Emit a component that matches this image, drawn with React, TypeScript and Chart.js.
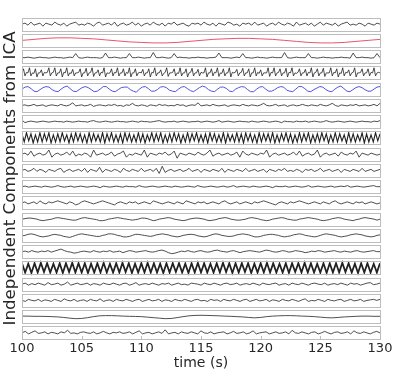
import { useEffect, useRef } from "react";
import { Chart, registerables } from "chart.js";

Chart.register(...registerables);

const X_MIN = 100;
const X_MAX = 130;
const xTickValues = [100, 105, 110, 115, 120, 125, 130];
const xTitle = "time (s)";
const yTitle = "Independent Components from ICA";

const c1 = [0,1,-1,2,-1,0,1,-2,1,0,-1,2,0,-1,1,-2,0,1,2,-1,0,-1,1,0,-2,1,2,-1,0,1,-1,2,-2,0,1,-1,0,2,-1,1,-2,0,1,-1,2,0,-1,1,-2,1,0,2,-1,0,1,-1,-2,1,0,1,-1,2,0,-1,1,-2,1,0,-1,2,1,-1,0,-2,1,0,1,-1,2,-1,0,1,-2,0,1,-1,2,0,-1,1,0,-2,2,-1,0,1,-1,1,-2,0,2,-1,1,0,-1,1,-2,0,1,2,-1,0,-1,1,0,-2,1,0,-1,1,0];
const c2 = [0,1,2,2.5,2.5,2,1.5,0.5,-0.5,-1.5,-2,-2.5,-2.5,-2,-1,0,1,1.5,2,2,1.5,1,0,-1,-2,-2.5,-2.5,-2,-1,0,1];
const c3 = [-1,-1,-0.5,-1,-1.5,-1,-0.5,-1,-1,-1.5,-1,-0.5,-1,-1,-1.5,-1,-0.5,-1,3,-1,-1.5,-1,-0.5,-1,-1,-1,-1.5,-1,3.5,-1,-1,-0.5,-1,-1.5,-1,-1,3,-1,-1,-0.5,-1,-1.5,-1,-1,4,-1,-1,-0.5,-1,-1.5,-1,3,-1,-0.5,-1,-1,-1.5,-1,-1,-0.5,-1,-1,-1.5,-1,-1,-0.5,3.5,-1,-1,-1,-1.5,-1,-0.5,-1,3,-1,-1,-1.5,-1,-0.5,-1,-1,-1.5,-1,-0.5,-1,-1,-1,4,-1,-1.5,-1,-0.5,-1,-1,-1,3,-1,-1,-1.5,-1,-0.5,-1,-1,-1.5,-1,-1,-0.5,-1,-1,-1.5,3.5,-1,-1,-0.5,-1,-1,-1.5,-1,3,-1];
const c4 = [
  0,4,-3,0.5,0,5,-3,0,-0.5,4,-4,0,0,3,-3,0.5,0,0.5,5,-3,0,
  0.5,5,-3,0,0,4,-4,0.5,0,5,-3,0,-0.5,3.5,-3,0,0,0.5,4,-4,0,
  0,4.5,-3,0,0.5,5,-3.5,0,0,3,-3,0.5,0,5,-4,0,-0.5,0,4,-3,0.5,
  0,5,-3,0,0,4,-3,0.5,-0.5,5,-4,0,0,4,-3,0,0.5,0,3.5,-3,0,
  0,4,-4,0.5,0,5,-3,0,0,3,-3,-0.5,0.5,5,-3.5,0,0,0.5,4,-3,0,
  -0.5,5,-3,0,0,4,-4,0,0.5,4.5,-3,0,0,3.5,-3,0.5,0,0,5,-4,0,
  0,4,-3,0.5,0,5,-3.5,0,-0.5,4,-3,0,0,5,-4,0.5,0,0.5,3.5,-3,0,
  0.5,4.5,-3,0,0,4,-4,0,0,5,-3,0.5,-0.5,3,-3,0,0,0,5,-3.5,0.5,
  0,5,-3,0,0.5,4,-3,0,0,4.5,-4,0.5,0,5,-3,0,-0.5,0.5,4,-3,0,
  0,3.5,-3,0.5,0,5,-4,0,0.5,4,-3,0,0,4.5,-3.5,0,0,0,5,-3,0.5,
  0,4,-4,0,-0.5,5,-3,0.5,0,3,-3,0,0.5,5,-4,0,0,0.5,4,-3,0,
  0,4,-3,0.5,0,5,-3,0,0.5,0,
];
const c5 = [0,2,2.5,0.5,-2,-2.5,-0.5,1.5,2.5,2,-0.5,-2,-2.5,0,2,3,0.5,-2,-2.5,-0.5,1.5,2.5,1.5,-0.5,-2.5,-2,0,2.5,2.5,0,-2,-2.5,-0.5,1.5,2,2,-0.5,-2,-3,0,2,2.5,0.5,-2,-2,-0.5,2,2.5,1.5,-1,-2,-2.5,0,2,2.5,0.5,-1.5,-2.5,-0.5,1.5,3,2,-0.5,-2,-2.5,0,2,2,0.5,-2,-2.5,0,1.5,2.5,2,-0.5,-2.5,-2.5,0,2,2.5,0,-2,-2,-0.5,1.5,2.5,2,-1,-2,-2.5,0,2.5,2.5,0.5,-2,-2.5,-0.5,1,2.5,2,-0.5,-2,-2.5,0,2,3,0.5,-2,-2.5,-0.5,1.5,2.5,1.5,-0.5,-2,-2,0,2,2.5];
const c6 = [0,0.5,-0.5,0,1,-0.5,0,0.5,-1,0,0.5,0,-0.5,1,0,-0.5,0.5,2.5,-0.5,0,0.5,-0.5,0,1,-1,0,0.5,0,-0.5,0.5,0,1,-0.5,0,-1,0.5,0,2,0,-0.5,0.5,0,-1,0.5,0,-0.5,1,0,0.5,-0.5,0,-0.5,1,0,0.5,-1,0,0.5,0,2.5,-0.5,0,0.5,-0.5,1,0,-0.5,0,0.5,-1,0,0.5,0,-0.5,1,0,-0.5,0.5,0,-0.5,0.5,2,0,-0.5,0,1,-0.5,0,0.5,-1,0,0.5,-0.5,0,1,0,-0.5,0.5,0,-0.5,1,0,-0.5,0.5,2,0,-1,0.5,0,-0.5,0.5,0,1,-0.5,0,0.5,-0.5,0,1,-0.5,2];
const c7 = [1.5,-1,0,0.5,0,-0.5,0,0.5,0,-0.5,0,0.5,0,0,-0.5,0.5,0,-0.5,0,0.5,0,0,-0.5,0.5,1,0,-0.5,0,0.5,0,-0.5,0,0.5,0,0,-0.5,0,0.5,0,-0.5,0.5,0,0,-0.5,0,0.5,1,0,-0.5,0,0,0.5,-0.5,0,0.5,0,-0.5,0,0,0.5,-0.5,0,0.5,0,-0.5,0,1,-0.5,0,0.5,0,-0.5,0,0.5,0,0,-0.5,0.5,0,-0.5,0,0.5,0,-0.5,0,0.5,0,-1,0.5,0,0,-0.5,0.5,0,0,0.5,-0.5,0,0.5,0,-0.5,0,1,0,-0.5,0,0.5,0,-0.5,0,0.5,0,-0.5,0,0.5,0,0,-0.5,0.5,0,1];
const c8 = [4,-4,5,-3,4,-5,3,-4,5,-4,4,-3,5,-5,3,-4,4,-4,5,-3,3,-5,4,-4,5,-3,4,-4,3,-5,5,-4,4,-3,3,-4,5,-5,4,-3,5,-4,3,-4,4,-5,5,-3,4,-4,3,-4,5,-4,4,-5,3,-3,5,-4,4,-3,5,-5,3,-4,4,-4,5,-3,4,-5,3,-4,5,-4,4,-3,5,-4,3,-4,4,-5,5,-3,4,-4,3,-4,5,-5,4,-3,3,-4,5,-4,4,-5,5,-3,4,-4,3,-5,5,-4,4,-3,4,-4,5,-5,3,-4,4,-3,5,-4,4,-5,3,-4,5,-4,4,-3,5,-5,3,-4,4,-4,5,-3,4,-5,3,-4,5,-4,4,-3,3,-5,5,-4,4,-4,3,-3,5,-5,4,-4,3,-4,5,-3,4];
const c9 = [0,1,-1,3,-2,0,1,-1,0,4,-3,0,1,-1,0,2,-1,3,-2,0,-1,1,0,-3,4,-1,0,1,-1,0,2,-2,0,1,3,-3,0,-1,1,0,-1,4,-3,1,0,-1,1,0,2,-1,0,3,-4,1,0,-1,1,0,-1,2,0,-1,1,4,-2,0,1,-1,0,1,-1,0,2,-3,3,0,-1,1,0,-1,1,0,4,-3,0,1,-1,0,1,-1,0,2,-1,3,-2,0,1,-1,0,4,-3,0,1,-1,0,1,-2,2,0,-1,1,0,3,-3,1,0,-1,1,0,-1,0];
const c10 = [0,1,-1,0,2,-1,1,0,-2,1,0,-1,1,2,-2,0,1,-1,0,1,-1,2,-2,1,0,-1,3,-2,1,0,-1,1,0,-2,2,0,-1,1,0,-1,2,-1,0,1,-1,2,-3,4,-2,0,1,-1,0,1,-1,0,2,-1,0,1,-2,1,0,-1,1,0,-1,2,-2,1,0,-1,1,0,-1,2,-1,0,1,-1,0,1,-2,1,0,-1,1,0,2,-1,0,-1,1,0,-2,1,0,1,-1,0,2,-1,0,1,-1,0,1,-2,1,0,-1,1,0,-1,2,-1,0,1,-1,0,1];
const c11 = [0,0.5,-0.5,0,0.5,0,-0.5,0.5,0,-0.5,0,1,0,-0.5,0,0.5,-0.5,0,0.5,0,-0.5,0,0.5,0,-1,0.5,0,-0.5,0,0.5,0,-0.5,0.5,0,0,-0.5,1,0,-0.5,0,0.5,0,-0.5,0,0.5,0,-0.5,0.5,0,-0.5,0,0.5,0,-0.5,1,0,-0.5,0,0.5,0,-0.5,0,0.5,-0.5,0,1,-0.5,0,0.5,0,-0.5,0.5,0,-0.5,0,0.5,0,-1,0.5,0,0,0.5,-0.5,0,0.5,0,-0.5,0,1,-0.5,0,0.5,0,-0.5,0,0.5,-0.5,0,0.5,0,1,-0.5,0,0.5,0,-0.5,0,0.5,1,0,0];
const c12 = [0,1,-1,0,1,-1,2,0,-1,1,0,1,2,1,0,-1,1,0,-2,-1,1,2,1,0,-1,0,1,2,1,0,-1,-2,0,1,0,-1,1,0,1,-1,0,1,0,-1,2,1,0,-1,0,1,0,-1,1,0,-1,2,1,0,-1,1,0,1,-1,0,1,0,-1,1,2,0,-1,0,1,-1,0,1,0,-1,1,0,1,2,1,0,-1,-2,0,1,0,-1,1,0,1,2,1,0,-1,0,1,0,-1,1,0,-1,1,2,0,-1,0,1,0,-1,1,0,1,-1,0,1,0,-1,0];
const c13 = [0,0.5,1,1,0.5,0,-1,-1.5,-1,-0.5,0,1,1.5,1,0.5,0,-0.5,-1,-1,0,1,1.5,1,0.5,0,-0.5,-1.5,-1.5,-1,0,0.5,1,1.5,1,0.5,0,-0.5,-1,-0.5,0,1,1,0.5,-0.5,-1.5,-1,0,0.5,1,1.5,1,0,-0.5,-1,-1.5,-1,0,0.5,1,1,0.5,0,-1,-1.5,-1,-0.5,0.5,1,1.5,1,0,-0.5,-1,-1,-0.5,0,1,1.5,1,0.5,-0.5,-1,-1.5,-1,0,0.5,1,1.5,1,0,-0.5,-1,-1,0,0.5,1,1.5,1,0.5,0,-1,-1.5,-1,-0.5,0.5,1,1.5,1,0,-0.5,-1,-1.5,-0.5,0,1,1.5,1,0.5,0,-1,0];
const c14 = [-0.5,0,1,1.5,1,0,-1,-1.5,-1,-0.5,0.5,1,0.5,0,-1,-1.5,-2,-1,0,1,1.5,1,0.5,0,-0.5,-1,-1,0,0.5,1.5,1.5,1,0,-0.5,-1.5,-1.5,-1,0,1,1,0.5,0,-0.5,-1,-0.5,0.5,1,1.5,1,0.5,-0.5,-1,-1.5,-1,0,0.5,1,1,0.5,-0.5,-1,-1.5,-1,0,1,1.5,1,0,-0.5,-1,-1,-0.5,0.5,1,1.5,1,0.5,-0.5,-1.5,-1.5,-1,0,0.5,1,1,0.5,0,-1,-1.5,-1,-0.5,0.5,1,1.5,1,0,-0.5,-1,-1.5,-1,0,1,1.5,1,0.5,0,-1,-1.5,-1,-0.5,0.5,1,1.5,1,0.5,-0.5,-1,-1.5,-1,0,0.5];
const c15 = [0,0.5,-0.5,1,0,-0.5,0.5,0,1,-0.5,0.5,1.5,2.5,1,0,-0.5,-1.5,-1,0,0.5,0,-0.5,1,0,-0.5,0.5,0,1,-0.5,0,0.5,-1,0,1,0.5,-0.5,0,0.5,1,0,-0.5,0,1,1.5,0.5,-1,-2,-1.5,-0.5,0.5,0,1,0,-0.5,0.5,1,0,-0.5,0,1,1.5,0.5,0,-0.5,0.5,1,0,-1,0,0.5,1,0.5,0,-0.5,0.5,1.5,1,0,-0.5,0,1,0.5,-0.5,0,1,0.5,0,-1,-0.5,0.5,0,1,0.5,-0.5,0,0.5,1,0,-0.5,0.5,0,-0.5,0.5,1,0,-0.5,0,0.5,1,0,0];
const c16 = [
  4.5,-4.5,4,-5,4.5,-4.5,5,-4,4.5,-4.5,
  4,-4.5,4.5,-5,4.5,-4,5,-4.5,4.5,-4.5,
  4.5,-5,4,-4.5,4.5,-4.5,5,-4.5,4,-4.5,
  4.5,-4.5,5,-4,4.5,-5,4,-4.5,4.5,-4.5,
  5,-4.5,4.5,-4.5,4,-5,4.5,-4.5,4.5,-4,
  4.5,-4.5,4,-5,4.5,-4.5,5,-4.5,4.5,-4.5,
  4,-4.5,4.5,-4.5,5,-4,4.5,-5,4.5,-4.5,
  4.5,-4,4.5,-5,4,-4.5,4.5,-4.5,5,-4.5,
  4.5,-4.5,4,-4.5,4.5,-5,4.5,-4,4.5,-4.5,
  5,-4.5,4.5,-4.5,4,-4.5,4.5,-5,4.5,-4.5,
  4.5,-4.5,5,-4,4.5,-4.5,4,-5,4.5,-4.5,
  4.5,-4.5,4,-4.5,4.5,
];
const c17 = [0,1,-1,0.5,-0.5,1,0,-1,1.5,-0.5,0,1,-1,0,2,-1,0,1,-0.5,0,1,-1,0.5,0,-1,1,0,-0.5,1,0,-1,0.5,1,-1,0,1.5,-1,0,0.5,-0.5,1,0,-1,0.5,0,1,-1,0,1,-0.5,0,-1,1,0.5,0,-1,1,0,-0.5,1,0,-1,0.5,1,-0.5,0,1,-1,0,0.5,-0.5,1,0,-1,1,0,-0.5,0.5,1,-1,0,0.5,-1,1,0,-0.5,1,0,-1,0.5,1,0,-0.5,1,-1,0,0.5,-0.5,1,0,-1,1,0,0.5,-1,0,1,1.5,-0.5,0,1];
const c18 = [0,-1,1,0,-0.5,1,-1,0.5,0,-1,1,0,-1,1.5,0,-0.5,1,-1,0,0.5,-1,1,0,-0.5,1.5,-1,0,0.5,-1,1,0,-0.5,1,0,-1,0.5,1,-1,0,1,-0.5,0,1,-1,0.5,0,-1,1,0,-0.5,1,0,-1,0.5,1,-0.5,0,-1,1,0,0.5,-1,1,0,-0.5,1,0,-1,0.5,1,-1,0,1,-0.5,0,1,-1,0.5,0,-1,1,0,-0.5,1,0,-1,0.5,1.5,-1,0,-0.5,1,0,-1,1,0,-0.5,0.5,1,-1,0,1,-0.5,0,1,-1,0,0.5,1,0,1];
const c19 = [0.5,0.5,0.3,0.3,0.2,0,-0.3,-0.8,-1.5,-2,-1.8,-1,0,0.8,1,1,0.8,0.5,0.3,0.2,0,-0.5,-1,-1.5,-2,-1.8,-1,0,0.8,1.2,1.3,1.2,1,0.8,0.5,0.3,0,-0.3,-0.8,-1.2,-0.8,0,0.5,0.8,1,1,0.8,0.5,0.3,0,-0.5,-1,-1.2,-0.8,-0.3,0,0.3,0.5,0.5,0.3,0.3];
const c20 = [0,1.5,-1,0.5,2,-0.5,0,1,-1,0.5,0,-1,1,0,2.5,-0.5,0,-1,0.5,1,0,-0.5,1,-1,0,1.5,0,-1,0.5,0,1,-0.5,0,1,-1,0.5,2,-1,0,0.5,-1,0,1,-0.5,3,-1,0,0.5,-1,1,0,-0.5,1,0,-1,2,0,-0.5,1,-1,0,0.5,1,-1,0,1.5,-0.5,0,1,-1,0,2,-1,0,0.5,1,-1,0,1,-0.5,0,1,-1,2.5,0,-0.5,1,0,-1,0.5,1,-1,0,1.5,0,-1,0.5,1,-0.5,0,1,-1,2,0,-0.5,1,0,-1,0.5,1.5,0];

const components = [c1, c2, c3, c4, c5, c6, c7, c8, c9, c10, c11, c12, c13, c14, c15, c16, c17, c18, c19, c20];
const lineColors = ["#222222", "#e8405f", "#222222", "#222222", "#4040d8", "#222222", "#222222", "#222222", "#222222", "#222222", "#222222", "#222222", "#222222", "#222222", "#222222", "#222222", "#222222", "#222222", "#222222", "#222222"];
const lineWidths = [0.8, 0.9, 0.8, 0.8, 0.9, 0.8, 0.8, 1.1, 0.8, 0.8, 0.8, 0.8, 0.8, 0.8, 0.8, 1.8, 0.8, 0.8, 0.8, 0.8];

const FONT = "'DejaVu Sans', Verdana, sans-serif";
const TEXT = "#262626";
const PANEL_GAP = 1.65;

function toPoints(values: number[]) {
  const n = values.length;
  return values.map((v, i) => ({ x: X_MIN + (i * (X_MAX - X_MIN)) / (n - 1), y: v }));
}

const panelPlugin = {
  id: "panels",
  afterDatasetsDraw(chart: any) {
    const { ctx, chartArea } = chart;
    ctx.save();
    ctx.strokeStyle = "#bdbdbd";
    ctx.lineWidth = 1;
    let last: any = null;
    components.forEach((_, i) => {
      const s = chart.scales["y" + i];
      const top = Math.round(s.top + PANEL_GAP) + 0.5;
      const bottom = Math.round(s.bottom - PANEL_GAP) + 0.5;
      ctx.strokeRect(Math.round(chartArea.left) + 0.5, top, Math.round(chartArea.right - chartArea.left), bottom - top);
      last = { top, bottom };
    });
    const xs = chart.scales.x;
    if (last) {
      ctx.beginPath();
      xTickValues.forEach((v) => {
        const px = Math.round(xs.getPixelForValue(v)) + 0.5;
        ctx.moveTo(px, last.bottom);
        ctx.lineTo(px, last.bottom - 3.5);
      });
      ctx.stroke();
    }
    ctx.restore();
  },
  afterDraw(chart: any) {
    const { ctx } = chart;
    const first = chart.scales.y0;
    const lastS = chart.scales["y" + (components.length - 1)];
    const cy = (first.top + lastS.bottom) / 2;
    ctx.save();
    ctx.translate(11, cy);
    ctx.rotate(-Math.PI / 2);
    ctx.fillStyle = TEXT;
    ctx.font = `16.7px ${FONT}`;
    ctx.textAlign = "center";
    ctx.textBaseline = "middle";
    ctx.fillText(yTitle, 0, 0);
    ctx.restore();
  },
};

export default function App() {
  const ref = useRef<HTMLCanvasElement | null>(null);
  useEffect(() => {
    if (!ref.current) return;
    const scales: any = {
      x: {
        type: "linear",
        min: X_MIN,
        max: X_MAX,
        afterBuildTicks: (s: any) => {
          s.ticks = xTickValues.map((v) => ({ value: v }));
        },
        ticks: { font: { family: FONT, size: 13, lineHeight: 1 }, color: TEXT, padding: 1, maxRotation: 0 },
        grid: { display: false, drawTicks: false },
        border: { display: false },
        title: { display: true, text: xTitle, font: { family: FONT, size: 14, lineHeight: 1 }, color: TEXT, padding: { top: 0, bottom: 0 } },
      },
    };
    // stacked axes are laid out bottom-up in definition order, so define the last component first
    for (let i = components.length - 1; i >= 0; i--) {
      scales["y" + i] = {
        type: "linear",
        display: false,
        position: "left",
        stack: "ica",
        stackWeight: 1,
        min: -8,
        max: 8,
      };
    }
    const chart = new Chart(ref.current, {
      type: "line",
      data: {
        datasets: components.map((vals, i) => ({
          data: toPoints(vals),
          yAxisID: "y" + i,
          borderColor: lineColors[i],
          borderWidth: lineWidths[i],
          pointRadius: 0,
          tension: 0,
          fill: false,
        })),
      },
      options: {
        responsive: false,
        animation: false,
        events: [],
        layout: { padding: { left: 22, right: 20, top: 16, bottom: 0 } },
        plugins: { legend: { display: false }, tooltip: { enabled: false }, title: { display: false } },
        scales,
      },
      plugins: [panelPlugin],
    });
    return () => chart.destroy();
  }, []);
  return (
    <div style={{ position: "fixed", left: 0, top: 0, width: 400, height: 370, background: "#fff" }}>
      <canvas ref={ref} width={400} height={370} style={{ display: "block", width: 400, height: 370 }} />
    </div>
  );
}
